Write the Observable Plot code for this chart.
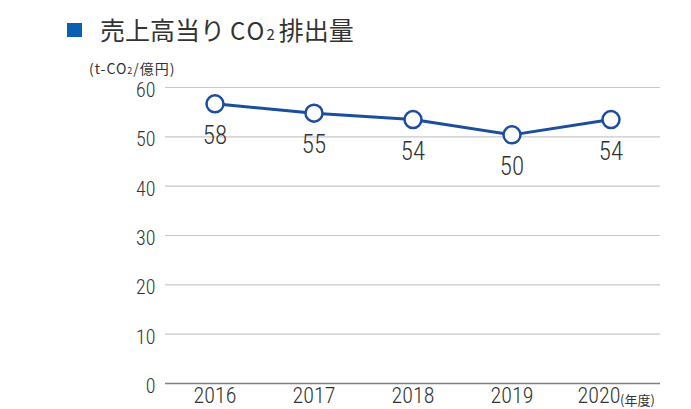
<!DOCTYPE html>
<html><head><meta charset="utf-8">
<script src="https://cdn.jsdelivr.net/npm/d3@7"></script>
<script src="https://cdn.jsdelivr.net/npm/@observablehq/plot@0.6"></script>
<style>
body{margin:0;background:#fff;}
#wrap{position:relative;width:691px;height:409px;overflow:hidden;}
#title{position:absolute;left:67px;top:12px;font-family:"Noto Sans CJK JP",sans-serif;font-size:25px;color:#333;white-space:nowrap;line-height:34px;}
#title .sq{display:inline-block;width:15px;height:14px;background:#0a5fb4;margin-right:18px;vertical-align:3px;}
#title .lat{font-size:24px;letter-spacing:2px;margin-left:5px;}
#title .sub{font-size:15px;margin-right:4px;}
#unit{position:absolute;left:89px;top:58px;font-family:"Noto Sans CJK JP",sans-serif;font-size:14px;color:#333;white-space:nowrap;line-height:20px;letter-spacing:1px;}
#unit .sub{font-size:9px;}
</style></head>
<body><div id="wrap"><div id="title"><span class="sq"></span>売上高当り<span class="lat">CO</span><span class="sub">2</span>排出量</div><div id="unit">(t-CO<span class="sub">2</span>/億円)</div><div id="chart"></div></div>
<script>
const years = ["2016","2017","2018","2019","2020"];
const values = [56.7, 54.8, 53.5, 50.4, 53.5];
const labels = ["58","55","54","50","54"];
const yTicks = [0,10,20,30,40,50,60];
const yearUnit = "(年度)";
const data = years.map((y,i)=>({year:y, value:values[i], label:labels[i]}));
const blue = "#1c4e9e";
const font = "'Roboto Condensed', 'Roboto', sans-serif";
const chart = Plot.plot({
  width: 691, height: 409,
  marginLeft: 165, marginRight: 31, marginTop: 87, marginBottom: 26,
  style: {fontFamily: font, color: "#333", background: "transparent", fontWeight: 350},
  x: {type: "band", domain: years, padding: 0},
  y: {domain: [0,60]},
  marks: [
    Plot.ruleY(yTicks.filter(d=>d>0), {stroke: "#c8c8c8", strokeWidth: 1.2}),
    Plot.ruleY([0], {stroke: "#808080", strokeWidth: 1.5}),
    Plot.axisY({ticks: yTicks, tickSize: 0, tickPadding: 10, fontSize: 20, dy: 3, label: null}),
    Plot.axisX({ticks: years.slice(0,4), tickSize: 0, tickPadding: 4, fontSize: 22, label: null}),
    Plot.axisX({ticks: years.slice(4), tickSize: 0, tickPadding: 4, fontSize: 22, dx: -12, label: null}),
    Plot.text([yearUnit], {x: ()=>years[4], frameAnchor: "bottom", textAnchor: "start", dx: 9, dy: 21, lineAnchor: "bottom", fontSize: 13, fontWeight: 400, fontFamily: "'Noto Sans CJK JP', sans-serif", fill: "#333"}),
    Plot.line(data, {x: "year", y: "value", stroke: blue, strokeWidth: 3}),
    Plot.dot(data, {x: "year", y: "value", r: 8.5, fill: "white", stroke: blue, strokeWidth: 2.5}),
    Plot.text(data, {x: "year", y: "value", text: "label", dy: 32, fontSize: 25, fill: "#333"})
  ]
});
document.getElementById("chart").appendChild(chart);
</script></body></html>
